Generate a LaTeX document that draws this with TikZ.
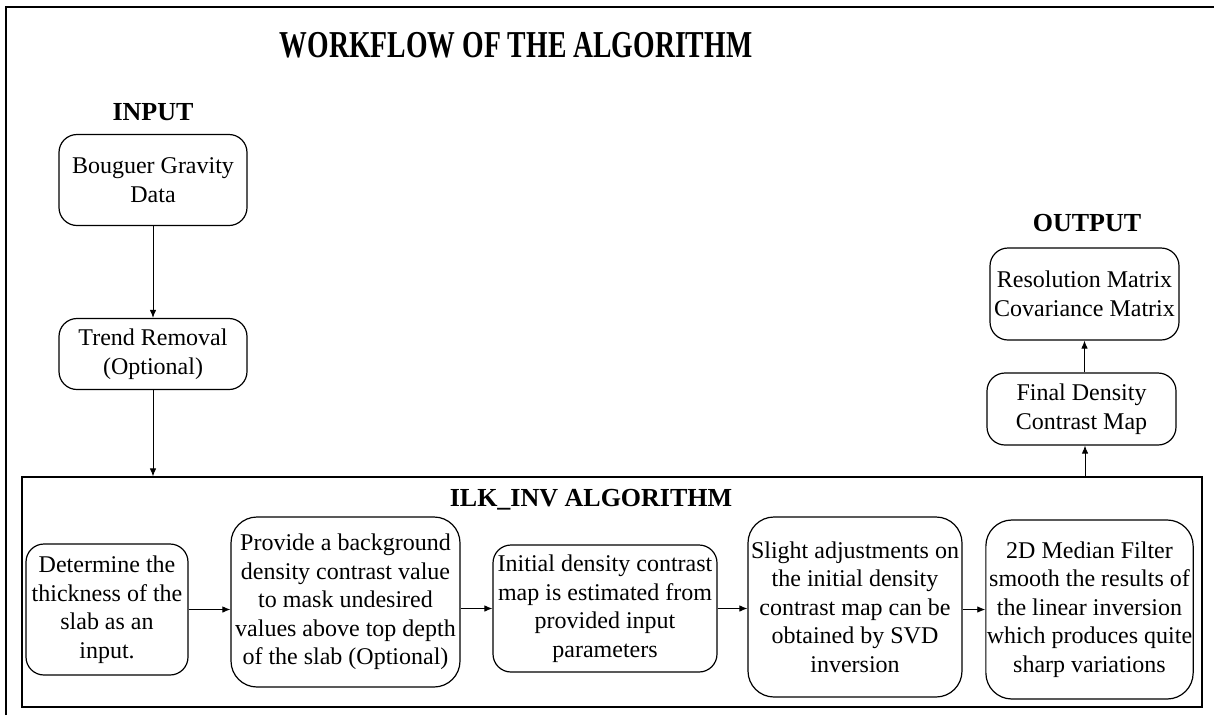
\documentclass[tikz,border=0pt]{standalone}
\usepackage{fontspec}
\setmainfont{Liberation Serif}
\usetikzlibrary{arrows.meta}
\begin{document}
\begin{tikzpicture}[x=1pt,y=-1pt,
  box/.style={draw, line width=1.2pt, rounded corners=18pt, align=center,
    inner sep=1pt, font=\fontsize{24}{28.5}\selectfont},
  lbl/.style={font=\bfseries\fontsize{26}{30}\selectfont},
  arr/.style={line width=0.9pt, -{Latex[length=8pt,width=6.5pt]}}]
\useasboundingbox (0,0) rectangle (1214,715);
\draw[line width=1.5pt] (6,715) -- (6,7) -- (1214,7);
\node[font=\bfseries\fontsize{38}{40}\selectfont] (title) at (516,45) {\scalebox{0.73}[1]{WORKFLOW OF THE ALGORITHM}};
\node[lbl] (inlbl) at (153,112) {INPUT};
\node[lbl] (outlbl) at (1087,223) {OUTPUT};
\node[box, minimum width=188pt, minimum height=91pt] (bouguer) at (153,180) {Bouguer Gravity\\Data};
\node[box, minimum width=188pt, minimum height=71pt] (trend) at (153,354) {Trend Removal\\(Optional)};
\node[draw, line width=1.2pt, minimum width=1180pt, minimum height=230pt, inner sep=0pt] (ilk) at (612,592) {};
\node[lbl] (ilktitle) at (591,500) {ILK\_INV ALGORITHM};
\node[box, minimum width=162pt, minimum height=131pt] (b1) at (107,609.5) {Determine the\\thickness of the\\slab as an\\input.};
\node[box, rounded corners=26pt, minimum width=229pt, minimum height=170pt] (b2) at (345.5,602) {Provide a background\\density contrast value\\to mask undesired\\values above top depth\\of the slab (Optional)};
\node[box, minimum width=224pt, minimum height=127pt] (b3) at (605,608.5) {Initial density contrast\\map is estimated from\\provided input\\parameters};
\node[box, rounded corners=26pt, minimum width=214pt, minimum height=180pt] (b4) at (855,607) {Slight adjustments on\\the initial density\\contrast map can be\\obtained by SVD\\inversion};
\node[box, rounded corners=26pt, minimum width=207pt, minimum height=179pt] (b5) at (1089.5,609.5) {2D Median Filter\\smooth the results of\\the linear inversion\\which produces quite\\sharp variations};
\node[box, minimum width=189pt, minimum height=92pt] (res) at (1084.5,294) {Resolution Matrix\\Covariance Matrix};
\node[box, minimum width=189pt, minimum height=72pt] (final) at (1081.5,409) {Final Density\\Contrast Map};
\coordinate (ilkout) at (1085,477);
\draw[arr] (bouguer.south) -- (trend.north);
\draw[arr] (trend.south) -- (trend.south |- ilk.north);
\draw[arr] (ilkout) -- (ilkout |- final.south);
\draw[arr] (final.north -| res.south) -- (res.south);
\draw[arr] (b1.east) -- (b2.west |- b1.east);
\draw[arr] (b2.east |- b3.west) -- (b3.west);
\draw[arr] (b3.east) -- (b4.west |- b3.east);
\draw[arr] (b4.east |- b5.west) -- (b5.west);
\end{tikzpicture}
\end{document}
